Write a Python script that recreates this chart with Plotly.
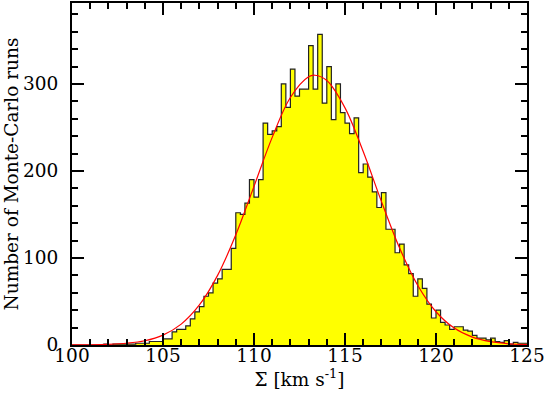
import plotly.graph_objects as go

# Histogram: 100 bins of width 0.25 km/s starting at 100
bin_start = 100.0
bin_width = 0.25
counts = [
    0, 0, 0, 0, 0, 0, 0, 1, 0, 1,
    1, 1, 1, 1, 2, 2, 2, 4, 4, 4,
    7, 7, 15, 18, 18, 22, 30, 38, 44, 56,
    60, 71, 76, 87, 87, 111, 152, 150, 163, 190,
    170, 190, 255, 242, 246, 251, 300, 273, 317, 286,
    294, 294, 344, 294, 357, 278, 320, 259, 300, 267,
    255, 243, 261, 198, 208, 193, 176, 158, 175, 133,
    133, 106, 116, 92, 82, 56, 76, 65, 47, 31,
    40, 26, 23, 18, 21, 21, 17, 16, 11, 8,
    8, 6, 8, 4, 3, 5, 1, 3, 2, 2,
]

# Gaussian fit curve
fit_x = [100, 101, 102, 103, 104, 105, 106, 107, 108, 109, 110, 111, 112, 113,
         113.35, 114, 115, 116, 117, 118, 119, 120, 121, 122, 123, 124, 125]
fit_y = [0.1, 0.2, 0.7, 2.0, 4.9, 11.4, 24.0, 46.0, 80.0, 126.6, 182.3, 238.6, 284.4, 308.2,
         310.0, 303.9, 272.5, 222.3, 165.0, 111.4, 68.4, 38.2, 19.4, 9.0, 3.8, 1.4, 0.5]

x_ticks = [100, 105, 110, 115, 120, 125]
y_ticks = [0, 100, 200, 300]

edges = [bin_start + bin_width * i for i in range(len(counts) + 1)]
step_y = counts + [counts[-1]]

fig = go.Figure()
fig.add_trace(go.Scatter(
    x=edges, y=step_y, mode="lines", line_shape="hv",
    line=dict(color="#222222", width=1.2),
    fill="tozeroy", fillcolor="#ffff00", hoverinfo="skip"))
fig.add_trace(go.Scatter(
    x=fit_x, y=fit_y, mode="lines", line_shape="spline",
    line=dict(color="#ff0000", width=1.2)))

font = dict(family="DejaVu Serif", size=18.5, color="black")
fig.update_layout(
    width=545, height=400,
    margin=dict(l=72, r=18, t=3, b=55, autoexpand=False),
    paper_bgcolor="white", plot_bgcolor="white",
    showlegend=False,
    font=font,
)
fig.update_xaxes(
    range=[100, 125], tickvals=x_ticks, ticktext=[str(v) for v in x_ticks],
    ticks="inside", ticklen=12, tickwidth=2, tickcolor="black",
    minor=dict(dtick=1, ticks="inside", ticklen=6, tickwidth=1.5, tickcolor="black"),
    showline=True, linewidth=2, linecolor="black", mirror="allticks",
    showgrid=False, zeroline=False, ticklabelstandoff=-7,
    title=dict(text="Σ [km s<sup>-1</sup>]", font=font, standoff=6),
)
fig.update_yaxes(
    range=[0, 393], tickvals=y_ticks, ticktext=[str(v) for v in y_ticks],
    ticks="inside", ticklen=12, tickwidth=2, tickcolor="black",
    minor=dict(dtick=20, ticks="inside", ticklen=6, tickwidth=1.5, tickcolor="black"),
    showline=True, linewidth=2, linecolor="black", mirror="allticks",
    showgrid=False, zeroline=False, ticklabelstandoff=8,
    title=dict(text="Number of Monte-Carlo runs", font=font, standoff=0),
)
fig.write_html("out.html", config={"displayModeBar": False},
               post_script="document.body.style.margin='0';document.body.style.overflow='hidden';")
